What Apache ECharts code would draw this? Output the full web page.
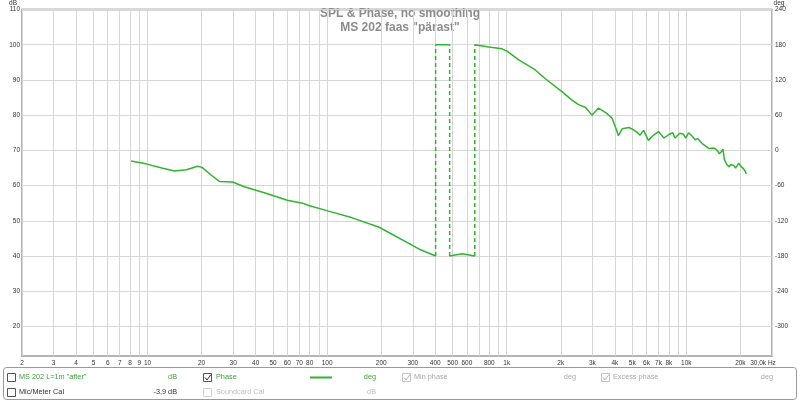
<!DOCTYPE html>
<html>
<head>
<meta charset="utf-8">
<script src="https://cdn.jsdelivr.net/npm/echarts@6/dist/echarts.min.js"></script>
<style>
html,body{margin:0;padding:0;background:#fff;}
#chart{width:800px;height:402px;}
</style>
</head>
<body>
<div id="chart"></div>
<script>
// ---- data (frequency in Hz, phase in degrees) ----
var phaseSeg1 = [[8.1,-18],[9.8,-23],[12,-30],[14.1,-35],[16.5,-33],[19,-27],[20.1,-29],[22.6,-42],[25.1,-53],[29.8,-54],[34.6,-62],[45.6,-73],[60,-85],[73,-90],[79,-94],[103,-104],[138,-115],[195,-131],[324,-168],[402,-180]];
var phaseSeg2 = [[402,180],[481,180]];
var phaseSeg3 = [[481,-180],[565,-176],[664,-180]];
var phaseSeg4 = [[664,180],[794,176],[942,173],[1004,169],[1167,154],[1443,137],[1640,122],[2029,100],[2300,86],[2512,78],[2750,73],[2981,60],[3246,72],[3608,63],[3850,55],[4050,38],[4190,25],[4406,37],[4800,39],[5080,35],[5300,31],[5530,26],[5780,34],[6150,17],[6570,26],[7000,32],[7500,21],[8000,27],[8400,30],[8650,21],[9200,29],[9600,28],[9930,21],[10300,30],[10800,24],[11200,18],[11600,20],[12200,12],[12600,9],[12900,6],[13400,3],[13700,1],[14200,4],[14600,2],[15000,-2],[15300,-6],[15700,-2],[16000,2],[16200,-10],[16300,-16],[16800,-24],[17300,-28],[17700,-24],[18000,-22],[18400,-26],[18800,-30],[19200,-26],[19600,-22],[20000,-26],[20300,-29],[20900,-32],[21300,-36],[21600,-40]];
var wrapFreqs = [402, 481, 664];

// ---- axes ----
var xLabelVals = [2,3,4,5,6,7,8,9,10,20,30,40,50,60,70,80,100,200,300,400,500,600,800,1000,2000,3000,4000,5000,6000,7000,8000,10000,20000,30000];
var xLabelText = ['2','3','4','5','6','7','8','9','10','20','30','40','50','60','70','80','100','200','300','400','500','600','800','1k','2k','3k','4k','5k','6k','7k','8k','10k','20k','30,0k Hz'];
var xGridVals = [2,3,4,5,6,7,8,9,10,20,30,40,50,60,70,80,90,100,200,300,400,500,600,700,800,900,1000,2000,3000,4000,5000,6000,7000,8000,9000,10000,20000,30000];
var dbTicks = [20,30,40,50,60,70,80,90,100,110];
var degTicks = [-300,-240,-180,-120,-60,0,60,120,180,240];

var title1 = 'SPL & Phase, no smoothing';
var title2 = 'MS 202 faas "pärast"';

var green = '#2fb52f';
var textGreen = '#3c9e3c';
var FONT = 'Liberation Sans, Arial, sans-serif';

var wrapData = [];
wrapFreqs.forEach(function (f, i) {
  if (i > 0) wrapData.push([f, '-']);
  wrapData.push([f, -180]);
  wrapData.push([f, 180]);
});

function xLabel(v) {
  var best = 0, d = Infinity;
  for (var i = 0; i < xLabelVals.length; i++) {
    var dd = Math.abs(xLabelVals[i] - v);
    if (dd < d) { d = dd; best = i; }
  }
  if (best === xLabelVals.length - 1) return '{last|' + xLabelText[best] + '}';
  return xLabelText[best];
}

var chart = echarts.init(document.getElementById('chart'), null, {renderer: 'canvas'});

function seg(data, dashed) {
  return {
    type: 'line', yAxisIndex: 1, data: data, showSymbol: false, symbol: 'none',
    connectNulls: false, silent: true,
    lineStyle: {color: green, width: 1.5, type: dashed ? [4, 3] : 'solid'}
  };
}

function txt(t, x, y, color, align, size, weight) {
  return {type: 'text', style: {text: t, x: x, y: y, textAlign: align || 'left', textVerticalAlign: 'middle',
    font: (weight ? weight + ' ' : '') + (size || 7.3) + 'px Liberation Sans, Arial, sans-serif', fill: color}};
}

var option = {
  animation: false,
  backgroundColor: '#ffffff',
  grid: {left: 22, right: 28, top: 9.5, bottom: 46, show: true, borderColor: '#b4b4b4', borderWidth: 2, backgroundColor: '#ffffff'},
  xAxis: {
    type: 'log', logBase: 10, min: 2, max: 30000,
    axisLine: {show: false},
    axisTick: {show: false, customValues: xGridVals},
    splitLine: {show: true, lineStyle: {color: '#d6d6d6', width: 1}},
    axisLabel: {
      customValues: xLabelVals, interval: 0, margin: 4, fontSize: 6.5, color: '#333', fontFamily: FONT,
      formatter: xLabel,
      rich: {last: {fontSize: 6.5, color: '#333', fontFamily: FONT, padding: [0, 18, 0, 0]}}
    }
  },
  yAxis: [
    {
      type: 'value', min: 11.6, max: 110, position: 'left',
      axisLine: {show: false}, axisTick: {show: false, customValues: dbTicks},
      splitLine: {show: true, lineStyle: {color: '#d6d6d6', width: 1}},
      axisLabel: {customValues: dbTicks, margin: 2, fontSize: 6.5, color: '#333', fontFamily: FONT}
    },
    {
      type: 'value', min: -350.4, max: 240, position: 'right',
      axisLine: {show: false}, axisTick: {show: false, customValues: degTicks},
      splitLine: {show: false},
      axisLabel: {customValues: degTicks, margin: 3, fontSize: 6.5, color: '#333', fontFamily: FONT}
    }
  ],
  series: [seg(phaseSeg1), seg(phaseSeg2), seg(phaseSeg3), seg(phaseSeg4), seg(wrapData, true)],
  graphic: [
    txt(title1, 400, 14, '#8c8c8c', 'center', 12, 'bold'),
    txt(title2, 400, 27.5, '#8c8c8c', 'center', 12, 'bold'),
    txt('dB', 13, 3, '#333', 'center', 6.5),
    txt('deg', 779, 3, '#333', 'center', 6.5),
    // legend box
    {type: 'rect', shape: {x: 3.5, y: 367.5, width: 793, height: 32, r: 3}, style: {fill: '#fff', stroke: '#9a9a9a', lineWidth: 1}},
    // row 1
    {type: 'rect', shape: {x: 7.5, y: 373.5, width: 8, height: 8}, style: {fill: '#fff', stroke: '#555', lineWidth: 1}},
    txt('MS 202 L=1m "after"', 19, 377, textGreen),
    txt('dB', 177, 377, textGreen, 'right'),
    {type: 'rect', shape: {x: 203.5, y: 373.5, width: 8, height: 8}, style: {fill: '#fff', stroke: '#555', lineWidth: 1}},
    {type: 'polyline', shape: {points: [[205, 377.5], [207, 380], [211, 374.5]]}, style: {stroke: '#333', lineWidth: 1, fill: null}},
    txt('Phase', 216, 377, textGreen),
    {type: 'line', shape: {x1: 310, y1: 377.5, x2: 332, y2: 377.5}, style: {stroke: green, lineWidth: 2}},
    txt('deg', 376, 377, textGreen, 'right'),
    {type: 'rect', shape: {x: 402.5, y: 373.5, width: 8, height: 8}, style: {fill: '#fff', stroke: '#c4c4c4', lineWidth: 1}},
    {type: 'polyline', shape: {points: [[404, 377.5], [406, 380], [410, 374.5]]}, style: {stroke: '#b8b8b8', lineWidth: 1, fill: null}},
    txt('Min phase', 414, 377, '#a8a8a8'),
    txt('deg', 576, 377, '#a8a8a8', 'right'),
    {type: 'rect', shape: {x: 601.5, y: 373.5, width: 8, height: 8}, style: {fill: '#fff', stroke: '#c4c4c4', lineWidth: 1}},
    {type: 'polyline', shape: {points: [[603, 377.5], [605, 380], [609, 374.5]]}, style: {stroke: '#b8b8b8', lineWidth: 1, fill: null}},
    txt('Excess phase', 613, 377, '#a8a8a8'),
    txt('deg', 773, 377, '#a8a8a8', 'right'),
    // row 2
    {type: 'rect', shape: {x: 7.5, y: 388.5, width: 8, height: 8}, style: {fill: '#fff', stroke: '#555', lineWidth: 1}},
    txt('Mic/Meter Cal', 19, 392, '#333'),
    txt('-3,9 dB', 177, 392, '#333', 'right'),
    {type: 'rect', shape: {x: 203.5, y: 388.5, width: 8, height: 8}, style: {fill: '#fff', stroke: '#d0d0d0', lineWidth: 1}},
    txt('Soundcard Cal', 216, 392, '#c0c0c0'),
    txt('dB', 376, 392, '#c0c0c0', 'right')
  ]
};
chart.setOption(option);
</script>
</body>
</html>
